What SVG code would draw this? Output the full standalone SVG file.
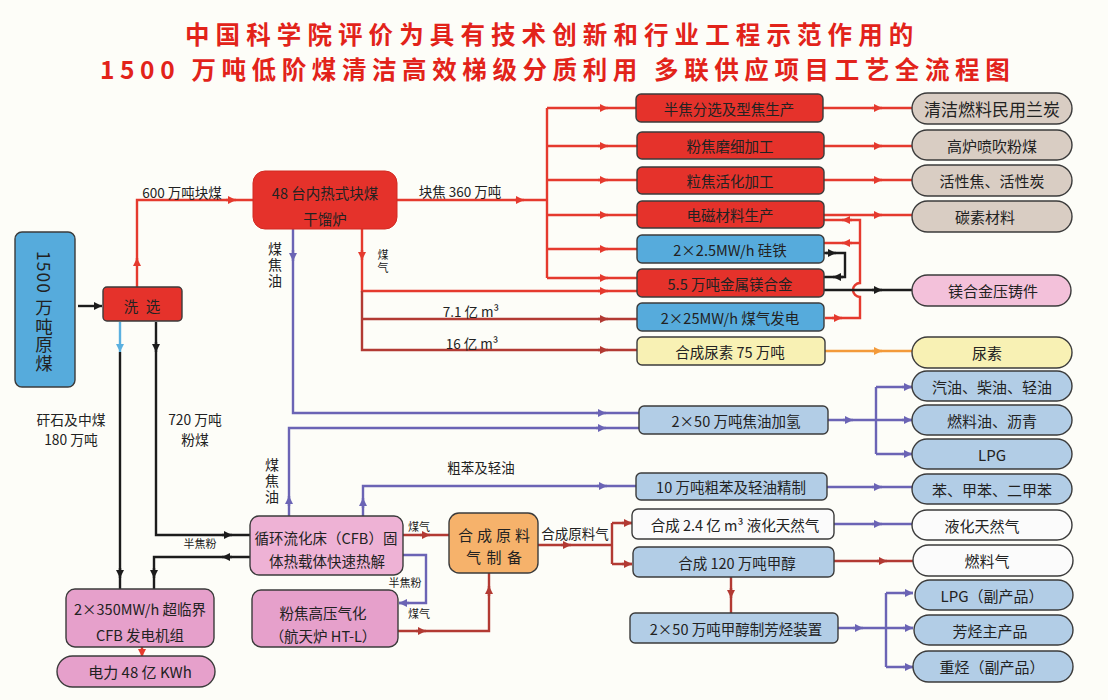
<svg xmlns="http://www.w3.org/2000/svg" width="1108" height="700" viewBox="0 0 1108 700">
<defs>
<style>
text{font-family:"Noto Sans CJK SC","Noto Sans",sans-serif;fill:#222;}
.t{font-size:14.5px;text-anchor:middle;dominant-baseline:central;}
.p{font-size:15px;text-anchor:middle;dominant-baseline:central;}
.vt{writing-mode:vertical-rl;text-anchor:middle;}
.lb{font-size:13.5px;text-anchor:middle;dominant-baseline:central;}
.sm{font-size:11px;text-anchor:middle;dominant-baseline:central;}
.title{font-size:24.5px;font-weight:bold;fill:#e2231a;dominant-baseline:central;}
.box{stroke:#3b3b3b;stroke-width:1.4;}
.red{fill:#e5322b;}
.blu{fill:#56abdc;}
.lbl{fill:#b2cde6;}
.yel{fill:#f8f1b4;}
.bei{fill:#d9cdc3;}
.pnk{fill:#f3c1da;}
.pk2{fill:#eeb2d5;}
.pk3{fill:#e6a0cb;}
.wht{fill:#fbfbfb;}
.org{fill:#f6b26b;}
.c{fill:none;stroke-width:2.4;}
.cr{stroke:#e53a2e;}
.cd{stroke:#b23a33;}
.cb{stroke:#6b64b5;}
.ck{stroke:#1c1c1c;}
.co{stroke:#f39a3a;}
.cl{stroke:#5ab0e0;}
</style>
<marker id="aR" viewBox="0 0 10 10" refX="10" refY="5" markerWidth="10" markerHeight="8" markerUnits="userSpaceOnUse" orient="auto"><path d="M0,0 L10,5 L0,10 z" fill="#e53a2e"/></marker>
<marker id="aD" viewBox="0 0 10 10" refX="10" refY="5" markerWidth="10" markerHeight="8" markerUnits="userSpaceOnUse" orient="auto"><path d="M0,0 L10,5 L0,10 z" fill="#b23a33"/></marker>
<marker id="aB" viewBox="0 0 10 10" refX="10" refY="5" markerWidth="10" markerHeight="8" markerUnits="userSpaceOnUse" orient="auto"><path d="M0,0 L10,5 L0,10 z" fill="#6b64b5"/></marker>
<marker id="aK" viewBox="0 0 10 10" refX="10" refY="5" markerWidth="10" markerHeight="8" markerUnits="userSpaceOnUse" orient="auto"><path d="M0,0 L10,5 L0,10 z" fill="#1c1c1c"/></marker>
<marker id="aO" viewBox="0 0 10 10" refX="10" refY="5" markerWidth="10" markerHeight="8" markerUnits="userSpaceOnUse" orient="auto"><path d="M0,0 L10,5 L0,10 z" fill="#f39a3a"/></marker>
<marker id="aL" viewBox="0 0 10 10" refX="10" refY="5" markerWidth="10" markerHeight="8" markerUnits="userSpaceOnUse" orient="auto"><path d="M0,0 L10,5 L0,10 z" fill="#5ab0e0"/></marker>
</defs>
<rect width="1108" height="700" fill="#fdfdf8"/>
<g id="title">
<text class="title" x="185" y="33" letter-spacing="6.1">中国科学院评价为具有技术创新和行业工程示范作用的</text>
<text class="title" x="100" y="68.5" letter-spacing="5.6">1500 万吨低阶煤清洁高效梯级分质利用 多联供应项目工艺全流程图</text>
</g>
<g id="connectors">
<path class="c cr" d="M137,287 V200 H253"/>
<path class="c cr" d="M137,265 V258" marker-end="url(#aR)"/>
<path class="c cr" d="M226,200 H236" marker-end="url(#aR)"/>
<path class="c cr" d="M397,200 H547 M547,108 V278 M547,108 H637 M547,146 H637 M547,180 H637 M547,215 H637 M547,249 H637 M547,278 H637"/>
<path class="c cr" d="M515,200 H524" marker-end="url(#aR)"/>
<path class="c cr" d="M598,108 H608" marker-end="url(#aR)"/>
<path class="c cr" d="M598,146 H608" marker-end="url(#aR)"/>
<path class="c cr" d="M598,180 H608" marker-end="url(#aR)"/>
<path class="c cr" d="M598,215 H608" marker-end="url(#aR)"/>
<path class="c cr" d="M598,249 H608" marker-end="url(#aR)"/>
<path class="c cr" d="M598,278 H608" marker-end="url(#aR)"/>
<path class="c cr" d="M362,229 V291 H637"/>
<path class="c cr" d="M362,250 V260" marker-end="url(#aR)"/>
<path class="c cr" d="M598,291 H608" marker-end="url(#aR)"/>
<path class="c cd" d="M362,291 V350 H637 M362,319 H637"/>
<path class="c cd" d="M598,319 H608" marker-end="url(#aD)"/>
<path class="c cd" d="M598,350 H608" marker-end="url(#aD)"/>
<path class="c cr" d="M822,108 H913 M822,146 H913 M822,180 H913 M822,215 H913"/>
<path class="c cr" d="M872,108 H882" marker-end="url(#aR)"/>
<path class="c cr" d="M872,146 H882" marker-end="url(#aR)"/>
<path class="c cr" d="M872,180 H882" marker-end="url(#aR)"/>
<path class="c cr" d="M872,215 H882" marker-end="url(#aR)"/>
<path class="c cr" d="M825,318 H860 V297 A7,7 0 0 1 860,283 V220 H823 M860,243 H823"/>
<path class="c cr" d="M832,318 H842" marker-end="url(#aR)"/>
<path class="c cr" d="M852,220 H842" marker-end="url(#aR)"/>
<path class="c cr" d="M852,243 H842" marker-end="url(#aR)"/>
<path class="c cr" d="M142,647 V657" marker-end="url(#aR)"/>
<path class="c ck" d="M78,306 H102" marker-end="url(#aK)"/>
<path class="c cl" d="M120,322 V352" marker-end="url(#aL)"/>
<path class="c ck" d="M120,352 V589"/>
<path class="c ck" d="M120,568 V578" marker-end="url(#aK)"/>
<path class="c ck" d="M156,322 V535 H250"/>
<path class="c ck" d="M156,342 V352" marker-end="url(#aK)"/>
<path class="c ck" d="M222,535 H232" marker-end="url(#aK)"/>
<path class="c ck" d="M250,557 H154 V589"/>
<path class="c ck" d="M232,557 H222" marker-end="url(#aK)"/>
<path class="c ck" d="M154,568 V578" marker-end="url(#aK)"/>
<path class="c ck" d="M823,253 H845 V277 H823"/>
<path class="c ck" d="M826,253 H836" marker-end="url(#aK)"/>
<path class="c ck" d="M843,277 H833" marker-end="url(#aK)"/>
<path class="c ck" d="M823,290 H913"/>
<path class="c ck" d="M872,290 H882" marker-end="url(#aK)"/>
<path class="c co" d="M825,351 H913"/>
<path class="c co" d="M872,351 H882" marker-end="url(#aO)"/>
<path class="c cb" d="M293,229 V413 H639"/>
<path class="c cb" d="M293,250 V261" marker-end="url(#aB)"/>
<path class="c cb" d="M596,413 H606" marker-end="url(#aB)"/>
<path class="c cb" d="M289,516 V428 H639"/>
<path class="c cb" d="M289,506 V496" marker-end="url(#aB)"/>
<path class="c cb" d="M596,428 H606" marker-end="url(#aB)"/>
<path class="c cb" d="M363,516 V486 H636"/>
<path class="c cb" d="M363,508 V498" marker-end="url(#aB)"/>
<path class="c cb" d="M597,486 H607" marker-end="url(#aB)"/>
<path class="c cb" d="M403,555 H426 V603 H399"/>
<path class="c cb" d="M409,603 H399" marker-end="url(#aB)"/>
<path class="c cb" d="M828,420 H876 M876,387 V454 M876,387 H913 M876,420 H913 M876,454 H913"/>
<path class="c cb" d="M843,420 H853" marker-end="url(#aB)"/>
<path class="c cb" d="M902,387 H912" marker-end="url(#aB)"/>
<path class="c cb" d="M902,420 H912" marker-end="url(#aB)"/>
<path class="c cb" d="M902,454 H912" marker-end="url(#aB)"/>
<path class="c cb" d="M827,487 H913"/>
<path class="c cb" d="M872,487 H882" marker-end="url(#aB)"/>
<path class="c cb" d="M834,524 H913"/>
<path class="c cb" d="M872,524 H882" marker-end="url(#aB)"/>
<path class="c cb" d="M838,628 H886 M886,593 V667 M886,593 H913 M886,628 H913 M886,667 H913"/>
<path class="c cb" d="M853,628 H863" marker-end="url(#aB)"/>
<path class="c cb" d="M903,593 H913" marker-end="url(#aB)"/>
<path class="c cb" d="M903,628 H913" marker-end="url(#aB)"/>
<path class="c cb" d="M903,667 H913" marker-end="url(#aB)"/>
<path class="c cd" d="M403,535 H449"/>
<path class="c cd" d="M420,535 H430" marker-end="url(#aD)"/>
<path class="c cd" d="M398,631 H489 V573"/>
<path class="c cd" d="M416,631 H426" marker-end="url(#aD)"/>
<path class="c cd" d="M489,596 V586" marker-end="url(#aD)"/>
<path class="c cd" d="M538,545 H612 M612,523 V564 M612,523 H632 M612,564 H632"/>
<path class="c cd" d="M561,545 H571" marker-end="url(#aD)"/>
<path class="c cd" d="M622,523 H632" marker-end="url(#aD)"/>
<path class="c cd" d="M622,564 H632" marker-end="url(#aD)"/>
<path class="c cd" d="M731,577 V613"/>
<path class="c cd" d="M731,588 V598" marker-end="url(#aD)"/>
<path class="c cd" d="M834,561 H913"/>
<path class="c cd" d="M877,561 H887" marker-end="url(#aD)"/>
</g>
<g id="labels">
<text class="lb" x="182" y="192">600 万吨块煤</text>
<text class="lb" x="460" y="191">块焦 360 万吨</text>
<text class="lb" x="471" y="311">7.1 亿 m³</text>
<text class="lb" x="472" y="343">16 亿 m³</text>
<text class="vt" style="font-size:14px;letter-spacing:2px" x="275" y="266">煤焦油</text>
<text class="vt" style="font-size:11px;letter-spacing:2px" x="383" y="262">煤气</text>
<text class="p" style="font-size:13.8px" x="71" y="418.5">矸石及中煤</text>
<text class="p" style="font-size:13.8px" x="71" y="438.5">180 万吨</text>
<text class="p" style="font-size:13.8px" x="195" y="418.5">720 万吨</text>
<text class="p" style="font-size:13.8px" x="195" y="438.5">粉煤</text>
<text class="vt" style="font-size:14px;letter-spacing:2px" x="272" y="482">煤焦油</text>
<text class="lb" x="481" y="467">粗苯及轻油</text>
<text class="sm" x="200" y="543">半焦粉</text>
<text class="sm" x="419" y="526">煤气</text>
<text class="sm" x="405" y="582">半焦粉</text>
<text class="sm" x="419" y="613">煤气</text>
<text class="lb" x="575" y="533">合成原料气</text>
</g>
<g id="n-raw"><rect class="box blu" x="15" y="232" width="60" height="155" rx="7"/>
<text class="vt" style="font-size:17.5px;letter-spacing:1px" x="44" y="312">1500 万吨原煤</text></g>
<g id="n-wash"><rect class="box red" x="103" y="287" width="79" height="34" rx="4"/><text class="t" x="131" y="305">洗</text><text class="t" x="153" y="305">选</text></g>
<g id="n-retort"><rect x="253" y="171" width="144" height="58" rx="12" fill="#e5322b" stroke="#d22a22" stroke-width="1"/>
<text class="t" x="325" y="192">48 台内热式块煤</text><text class="t" x="325" y="218">干馏炉</text></g>
<g id="n-r1"><rect class="box red" x="636" y="94" width="187" height="28" rx="5"/><text class="t" x="729" y="108">半焦分选及型焦生产</text></g>
<g id="n-r2"><rect class="box red" x="637" y="132" width="187" height="27" rx="5"/><text class="t" x="730" y="145.5">粉焦磨细加工</text></g>
<g id="n-r3"><rect class="box red" x="637" y="167" width="187" height="27" rx="5"/><text class="t" x="730" y="180.5">粒焦活化加工</text></g>
<g id="n-r4"><rect class="box red" x="637" y="201" width="187" height="27" rx="5"/><text class="t" x="730" y="214.5">电磁材料生产</text></g>
<g id="n-r5"><rect class="box blu" x="637" y="235" width="187" height="28" rx="5"/><text class="t" x="730" y="249">2×2.5MW/h 硅铁</text></g>
<g id="n-r6"><rect class="box red" x="637" y="269" width="187" height="28" rx="5"/><text class="t" x="730" y="283">5.5 万吨金属镁合金</text></g>
<g id="n-r7"><rect class="box blu" x="637" y="303" width="187" height="28" rx="5"/><text class="t" x="730" y="317">2×25MW/h 煤气发电</text></g>
<g id="n-r8"><rect class="box yel" x="637" y="337" width="188" height="28" rx="5"/><text class="t" x="730" y="351">合成尿素 75 万吨</text></g>
<g id="n-o1"><rect class="box bei" x="912" y="93" width="160" height="31" rx="15.5"/><text class="p" style="font-size:17px" x="992" y="108.5">清洁燃料民用兰炭</text></g>
<g id="n-o2"><rect class="box bei" x="912" y="130" width="160" height="30" rx="15"/><text class="p" x="992" y="145">高炉喷吹粉煤</text></g>
<g id="n-o3"><rect class="box bei" x="912" y="165" width="160" height="31" rx="15.5"/><text class="p" x="992" y="180.5">活性焦、活性炭</text></g>
<g id="n-o4"><rect class="box bei" x="912" y="201" width="160" height="31" rx="15.5"/><text class="p" x="985" y="216.5">碳素材料</text></g>
<g id="n-o5"><rect class="box pnk" x="912" y="275" width="159" height="31" rx="15.5"/><text class="p" x="993" y="290.5">镁合金压铸件</text></g>
<g id="n-o6"><rect class="box yel" x="912" y="337" width="160" height="31" rx="15.5"/><text class="p" x="987" y="352.5">尿素</text></g>
<g id="n-o7"><rect class="box lbl" x="912" y="371" width="160" height="30" rx="15"/><text class="p" x="992" y="386">汽油、柴油、轻油</text></g>
<g id="n-o8"><rect class="box lbl" x="912" y="405" width="160" height="30" rx="15"/><text class="p" x="992" y="420">燃料油、沥青</text></g>
<g id="n-o9"><rect class="box lbl" x="912" y="439" width="160" height="30" rx="15"/><text class="p" x="992" y="454">LPG</text></g>
<g id="n-o10"><rect class="box lbl" x="912" y="474" width="160" height="30" rx="15"/><text class="p" x="992" y="489">苯、甲苯、二甲苯</text></g>
<g id="n-o11"><rect class="box wht" x="912" y="510" width="160" height="30" rx="15"/><text class="p" x="982" y="525">液化天然气</text></g>
<g id="n-o12"><rect class="box wht" x="913" y="545" width="160" height="31" rx="15.5"/><text class="p" x="987" y="560.5">燃料气</text></g>
<g id="n-o13"><rect class="box lbl" x="915" y="580" width="158" height="30" rx="15"/><text class="p" x="992" y="595">LPG（副产品）</text></g>
<g id="n-o14"><rect class="box lbl" x="914" y="615" width="159" height="30" rx="15"/><text class="p" x="990" y="630">芳烃主产品</text></g>
<g id="n-o15"><rect class="box lbl" x="913" y="651" width="160" height="31" rx="15.5"/><text class="p" x="992" y="666.5">重烃（副产品）</text></g>
<g id="n-m1"><rect class="box lbl" x="639" y="406" width="189" height="28" rx="5"/><text class="t" x="736" y="420">2×50 万吨焦油加氢</text></g>
<g id="n-m2"><rect class="box lbl" x="636" y="473" width="191" height="27" rx="5"/><text class="t" x="731" y="486.5">10 万吨粗苯及轻油精制</text></g>
<g id="n-m3"><rect class="box wht" x="632" y="509" width="202" height="30" rx="6"/><text class="t" x="735" y="524">合成 2.4 亿 m³ 液化天然气</text></g>
<g id="n-m4"><rect class="box lbl" x="633" y="547" width="201" height="30" rx="6"/><text class="t" x="737" y="562">合成 120 万吨甲醇</text></g>
<g id="n-m5"><rect class="box lbl" x="630" y="613" width="208" height="30" rx="5"/><text class="t" x="736" y="628">2×50 万吨甲醇制芳烃装置</text></g>
<g id="n-syn"><rect class="box org" x="449" y="513" width="89" height="60" rx="10"/>
<text style="font-size:15px;dominant-baseline:central" x="458" y="534" textLength="72" lengthAdjust="spacing">合成原料</text>
<text style="font-size:15px;dominant-baseline:central" x="466" y="556" textLength="56" lengthAdjust="spacing">气制备</text></g>
<g id="n-cfb"><rect class="box pk2" x="250" y="516" width="153" height="59" rx="9"/><text class="t" x="326" y="537">循环流化床（CFB）固</text><text class="t" x="327" y="560">体热载体快速热解</text></g>
<g id="n-gas"><rect class="box pk3" x="252" y="590" width="146" height="57" rx="9"/><text class="t" x="323" y="612">粉焦高压气化</text><text class="t" x="323" y="635">（航天炉 HT-L）</text></g>
<g id="n-power"><rect class="box pk3" x="66" y="589" width="148" height="58" rx="9"/><text class="t" x="140" y="608">2×350MW/h 超临界</text><text class="t" x="140" y="634">CFB 发电机组</text></g>
<g id="n-elec"><rect class="box pk3" x="57" y="656" width="158" height="31" rx="15.5"/><text class="p" x="140" y="671.5">电力 48 亿 KWh</text></g>
</svg>
